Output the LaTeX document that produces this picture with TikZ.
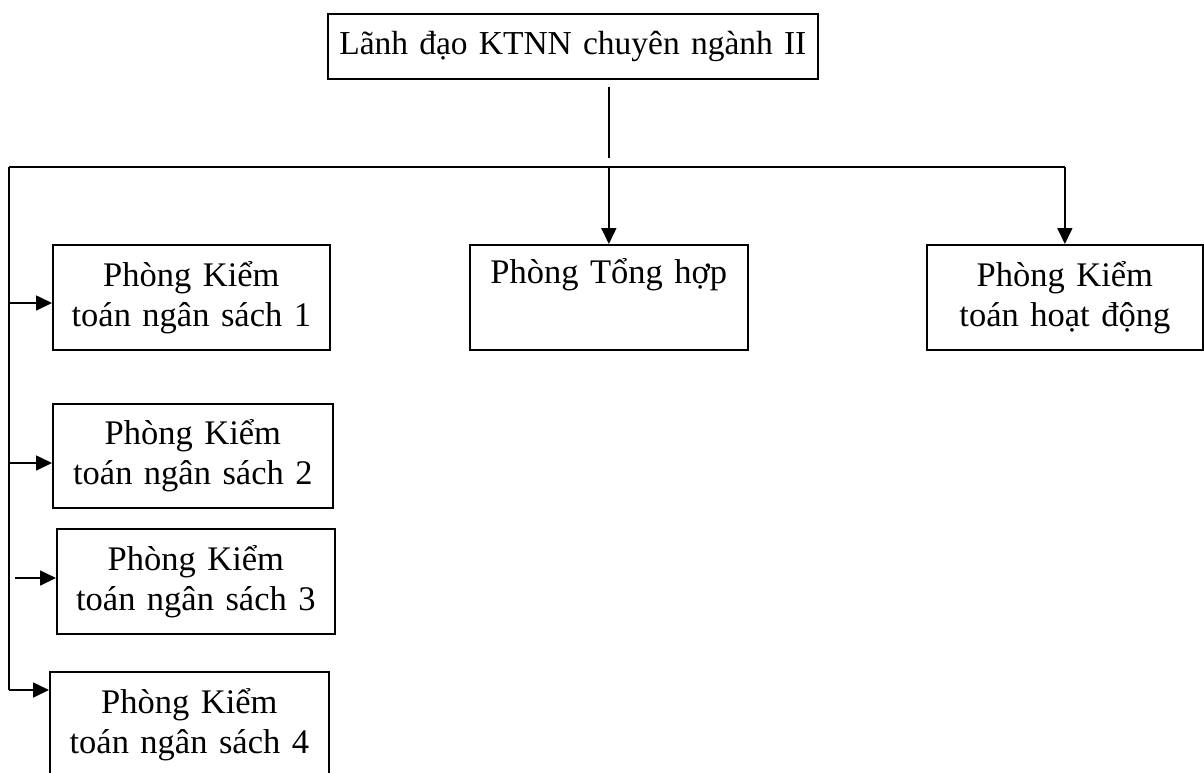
\documentclass[tikz,border=0pt]{standalone}
\usepackage{fontspec}
\setmainfont{Liberation Serif}
\usetikzlibrary{arrows.meta}

\tikzset{phong/.style args =
  {#1:#2}{draw, anchor=north west, inner sep=0pt, align=center,
    text width=#1, minimum height=#2,
    font=\fontsize{34.5}{40}\selectfont}}

\begin{document}
\begin{tikzpicture}[x=1pt, y=-1pt, line width=1.7pt,
    >={Triangle[length=16pt,width=15pt]}]
  \useasboundingbox (0,0) rectangle (1204,772);
  \clip (0,0) rectangle (1204,772);

  % -- Lanh dao
  \node[phong=490pt:65pt, font=\fontsize{33.5}{39}\selectfont] (lanhdao) at (327,13)
    {Lãnh đạo KTNN chuyên ngành II};

  % -- hang tren
  \node[phong=277pt:105pt] (ns1)      at (52,244)  {Phòng Kiểm\\toán ngân sách 1};
  \node[phong=278pt:105pt] (tonghop)  at (469,244) {Phòng Tổng hợp\\\strut};
  \node[phong=276pt:105pt] (hoatdong) at (926,244) {Phòng Kiểm\\toán hoạt động};

  % -- cot ben trai
  \node[phong=280pt:104pt] (ns2) at (52,403) {Phòng Kiểm\\toán ngân sách 2};
  \node[phong=278pt:105pt] (ns3) at (56,528) {Phòng Kiểm\\toán ngân sách 3};
  \node[phong=279pt:105pt] (ns4) at (49,671) {Phòng Kiểm\\toán ngân sách 4};

  % duong noi
  \coordinate (tren) at (609,87);
  \coordinate (duoi) at (609,158);
  \coordinate (trai) at (9,167);
  \coordinate (goc)  at (9,690);
  \draw (tren) -- (duoi);
  \draw (trai) -- (trai -| hoatdong.north);
  \draw [->] (trai -| tonghop.north) -- (tonghop.north);
  \draw [->] (trai -| hoatdong.north) -- (hoatdong.north);
  \draw (trai) -- (goc);

  % mui ten sang cac phong
  \foreach \ten/\x/\y in {ns1/9/303, ns2/9/463, ns3/15/578, ns4/9/690} {
    \coordinate (a\ten) at (\x,\y);
    \draw [->] (a\ten) -- (a\ten -| \ten.west);
  }
\end{tikzpicture}
\end{document}
